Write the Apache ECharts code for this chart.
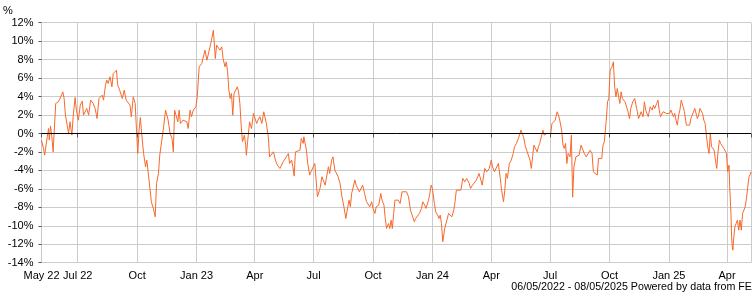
<!DOCTYPE html>
<html>
<head>
<meta charset="utf-8">
<script src="https://cdn.jsdelivr.net/npm/echarts@6/dist/echarts.min.js"></script>
<style>
html,body{margin:0;padding:0;background:#fff;}
#chart{width:754px;height:298px;}
</style>
</head>
<body>
<div id="chart"></div>
<script>
// ---- data (cumulative % performance) ----
const dates = [
'2022-05-06','2022-05-09','2022-05-11','2022-05-13','2022-05-15','2022-05-17','2022-05-18','2022-05-20','2022-05-22','2022-05-24','2022-05-26','2022-05-28',
'2022-06-01','2022-06-03','2022-06-08','2022-06-10','2022-06-12','2022-06-15','2022-06-17','2022-06-19','2022-06-22','2022-06-24','2022-06-27','2022-06-29',
'2022-07-02','2022-07-05','2022-07-08','2022-07-10','2022-07-12','2022-07-15','2022-07-18','2022-07-21','2022-07-25','2022-07-28','2022-07-31',
'2022-08-03','2022-08-08','2022-08-10','2022-08-13','2022-08-15','2022-08-17','2022-08-20','2022-08-23','2022-08-25','2022-08-28','2022-08-30',
'2022-09-01','2022-09-04','2022-09-08','2022-09-11','2022-09-14','2022-09-17','2022-09-20','2022-09-22','2022-09-25','2022-09-28','2022-09-30',
'2022-10-02','2022-10-04','2022-10-06','2022-10-08','2022-10-11','2022-10-14','2022-10-16','2022-10-18','2022-10-21','2022-10-23','2022-10-26','2022-10-29','2022-10-31',
'2022-11-03','2022-11-05','2022-11-08','2022-11-11','2022-11-14','2022-11-16','2022-11-18','2022-11-21','2022-11-24','2022-11-26','2022-11-28',
'2022-12-01','2022-12-03','2022-12-05','2022-12-07','2022-12-11','2022-12-14','2022-12-17','2022-12-19','2022-12-22','2022-12-24','2022-12-27','2022-12-31',
'2023-01-02','2023-01-05','2023-01-09','2023-01-11','2023-01-14','2023-01-17','2023-01-20','2023-01-23','2023-01-27','2023-01-30',
'2023-02-01','2023-02-04','2023-02-06','2023-02-09','2023-02-11','2023-02-14','2023-02-16','2023-02-18','2023-02-20','2023-02-22','2023-02-24','2023-02-26','2023-02-28',
'2023-03-03','2023-03-05','2023-03-07','2023-03-09','2023-03-11','2023-03-13','2023-03-16','2023-03-18','2023-03-19','2023-03-22','2023-03-24','2023-03-27','2023-03-30',
'2023-04-02','2023-04-04','2023-04-06','2023-04-09','2023-04-12','2023-04-15','2023-04-19','2023-04-22','2023-04-24','2023-04-27','2023-04-30',
'2023-05-03','2023-05-06','2023-05-10','2023-05-12','2023-05-15','2023-05-17','2023-05-20','2023-05-23','2023-05-25','2023-05-28','2023-05-30',
'2023-06-01','2023-06-03','2023-06-06','2023-06-10','2023-06-12','2023-06-15','2023-06-16','2023-06-20','2023-06-22','2023-06-25','2023-06-27','2023-06-30',
'2023-07-03','2023-07-05','2023-07-07','2023-07-09','2023-07-11','2023-07-14','2023-07-17','2023-07-19','2023-07-22','2023-07-24','2023-07-26','2023-07-29','2023-07-31',
'2023-08-03','2023-08-05','2023-08-08','2023-08-11','2023-08-14','2023-08-17','2023-08-20','2023-08-23','2023-08-25','2023-08-27','2023-08-29','2023-08-31',
'2023-09-03','2023-09-05','2023-09-07','2023-09-10','2023-09-13','2023-09-15','2023-09-18','2023-09-21','2023-09-24','2023-09-26','2023-09-29',
'2023-10-01','2023-10-04','2023-10-06','2023-10-10','2023-10-13','2023-10-15','2023-10-18','2023-10-20','2023-10-22','2023-10-25','2023-10-27','2023-10-29','2023-10-31',
'2023-11-02','2023-11-04','2023-11-07','2023-11-09','2023-11-12','2023-11-15','2023-11-18','2023-11-22','2023-11-25','2023-11-28',
'2023-12-01','2023-12-04','2023-12-06','2023-12-09','2023-12-12','2023-12-15','2023-12-17','2023-12-20','2023-12-22','2023-12-26','2023-12-28','2023-12-30',
'2024-01-01','2024-01-04','2024-01-06','2024-01-09','2024-01-11','2024-01-13','2024-01-15','2024-01-17','2024-01-20','2024-01-22','2024-01-26','2024-01-28','2024-01-31',
'2024-02-03','2024-02-05','2024-02-07','2024-02-10','2024-02-14','2024-02-17','2024-02-20','2024-02-23','2024-02-27','2024-02-29',
'2024-03-03','2024-03-06','2024-03-09','2024-03-11','2024-03-13','2024-03-16','2024-03-18','2024-03-20','2024-03-22','2024-03-25','2024-03-29',
'2024-04-01','2024-04-03','2024-04-06','2024-04-09','2024-04-12','2024-04-15','2024-04-17','2024-04-20','2024-04-22','2024-04-24','2024-04-26','2024-04-29',
'2024-05-02','2024-05-05','2024-05-07','2024-05-10','2024-05-13','2024-05-15','2024-05-17','2024-05-19','2024-05-21','2024-05-24','2024-05-27','2024-05-31',
'2024-06-02','2024-06-04','2024-06-06','2024-06-09','2024-06-11','2024-06-13','2024-06-15','2024-06-17','2024-06-20','2024-06-22','2024-06-24','2024-06-26','2024-06-29',
'2024-07-02','2024-07-04','2024-07-06','2024-07-09','2024-07-12','2024-07-14','2024-07-16','2024-07-19','2024-07-21','2024-07-23','2024-07-25','2024-07-27','2024-07-29',
'2024-08-01','2024-08-03','2024-08-05','2024-08-07','2024-08-10','2024-08-13','2024-08-15','2024-08-18','2024-08-21','2024-08-23','2024-08-26','2024-08-29',
'2024-09-01','2024-09-04','2024-09-06','2024-09-09','2024-09-12','2024-09-14','2024-09-17','2024-09-19','2024-09-21','2024-09-23','2024-09-26','2024-09-28','2024-09-30',
'2024-10-02','2024-10-05','2024-10-07','2024-10-09','2024-10-11','2024-10-13','2024-10-15','2024-10-17','2024-10-19','2024-10-21','2024-10-23','2024-10-25','2024-10-27','2024-10-29',
'2024-11-01','2024-11-03','2024-11-06','2024-11-09','2024-11-12','2024-11-15','2024-11-17','2024-11-19','2024-11-22','2024-11-24','2024-11-26','2024-11-28','2024-11-30',
'2024-12-03','2024-12-06','2024-12-08','2024-12-10','2024-12-13','2024-12-15','2024-12-17','2024-12-19','2024-12-21','2024-12-23','2024-12-25','2024-12-28','2024-12-30',
'2025-01-02','2025-01-04','2025-01-08','2025-01-10','2025-01-12','2025-01-14','2025-01-16','2025-01-18','2025-01-20','2025-01-23','2025-01-25','2025-01-28','2025-01-30',
'2025-02-02','2025-02-04','2025-02-07','2025-02-10','2025-02-12','2025-02-14','2025-02-16','2025-02-18','2025-02-20','2025-02-22','2025-02-24','2025-02-26','2025-02-28',
'2025-03-02','2025-03-04','2025-03-06','2025-03-08','2025-03-12','2025-03-14','2025-03-16','2025-03-18','2025-03-20','2025-03-22','2025-03-24','2025-03-27','2025-03-29','2025-03-31',
'2025-04-02','2025-04-04','2025-04-05','2025-04-07','2025-04-08','2025-04-09','2025-04-10','2025-04-11','2025-04-13','2025-04-15','2025-04-17','2025-04-19','2025-04-21','2025-04-23','2025-04-25','2025-04-27','2025-04-29',
'2025-05-01','2025-05-03','2025-05-05','2025-05-07','2025-05-08'
];
const values = [
-0.72,-1.62,-2.35,-1.26,-0.36,0.54,-0.72,0.79,-0.36,-1.99,-2.17,3.25,
3.43,3.68,4.51,3.79,1.99,2.09,0.00,1.26,-0.18,1.81,3.90,2.53,
1.44,3.07,3.50,1.99,1.88,2.71,1.99,3.61,3.25,2.71,1.62,
3.79,4.15,3.61,5.23,5.78,5.42,6.14,5.05,6.50,6.32,6.86,
5.23,4.69,3.79,4.69,3.61,3.61,3.07,1.81,3.97,3.25,0.36,
-2.17,0.36,1.73,0.00,-2.17,-3.61,-2.89,-4.15,-4.33,-7.40,-8.12,-9.03,-5.42,
-4.33,-2.35,-2.17,0.72,2.53,1.99,1.44,0.00,-0.54,-1.99,2.53,
2.71,1.26,2.53,1.08,1.44,1.26,1.26,0.54,2.53,1.81,2.53,2.89,
3.97,7.22,7.58,7.76,9.03,7.94,8.84,9.75,11.19,8.12,
9.57,9.50,9.03,9.39,8.12,7.22,7.76,6.68,4.69,3.79,4.33,1.99,4.33,
4.51,5.05,4.51,3.25,0.90,-0.90,-0.18,-1.26,-2.35,-0.18,1.26,0.54,2.17,
2.35,1.08,1.44,1.81,1.08,2.35,1.08,-0.36,-2.53,-2.35,-1.99,
-2.89,-3.43,-3.79,-3.97,-3.07,-3.25,-2.53,-2.17,-3.25,-2.89,-3.61,
-4.62,-1.99,-1.99,-1.81,-0.54,-1.08,-0.36,-1.81,-3.25,-4.51,-4.15,-4.33,
-3.25,-5.05,-6.86,-7.04,-5.96,-4.69,-4.69,-5.60,-5.42,-3.61,-4.33,-2.89,-2.53,
-3.97,-3.79,-4.69,-5.42,-6.86,-7.94,-9.21,-7.94,-7.22,-7.94,-6.50,-6.68,
-5.05,-5.60,-5.78,-6.32,-6.50,-5.60,-6.50,-7.40,-7.58,-7.94,-7.40,
-8.12,-8.66,-7.94,-7.76,-6.50,-7.22,-7.76,-9.21,-10.29,-9.75,-10.29,-9.39,-10.29,
-8.66,-7.22,-7.04,-7.22,-7.58,-6.32,-6.50,-6.32,-6.86,-8.30,
-8.48,-9.57,-9.21,-9.03,-8.66,-8.12,-7.40,-7.76,-8.12,-7.22,-6.50,-5.60,
-5.96,-7.58,-8.48,-8.84,-9.21,-8.84,-9.75,-11.73,-10.29,-10.47,-8.66,-8.48,-9.03,
-8.30,-7.40,-6.14,-6.14,-6.14,-4.87,-5.23,-4.87,-5.42,-5.96,
-5.60,-5.78,-5.05,-5.23,-4.33,-5.05,-5.60,-5.42,-3.79,-4.15,-3.79,
-2.89,-3.61,-4.15,-3.97,-3.25,-4.87,-6.14,-7.40,-6.14,-4.33,-4.87,-3.25,
-2.89,-2.17,-1.44,-1.08,-0.54,-0.54,0.36,0.54,-0.36,-1.44,-1.44,-2.89,
-3.79,-2.53,-1.26,-1.44,-1.99,-1.44,-1.08,-0.90,0.36,-0.18,-0.36,0.00,-0.18,
0.00,1.08,1.26,1.44,2.35,1.99,1.44,0.36,-1.26,-1.62,-1.08,-3.25,-2.17,
-2.53,-0.18,-6.90,-3.61,-2.53,-2.53,-2.35,-1.26,-1.26,-2.17,-2.53,-2.71,
-1.81,-2.17,-4.15,-4.33,-4.51,-2.71,-2.89,-2.71,-1.26,-0.90,1.44,3.43,3.79,
6.86,7.22,7.76,5.05,3.97,4.87,4.69,3.25,4.51,3.79,3.79,3.43,3.61,2.53,
1.62,2.71,3.43,3.79,2.71,1.62,1.44,2.35,1.81,3.43,2.53,2.35,1.81,
2.89,2.53,3.07,2.71,3.25,3.61,2.53,1.81,1.81,2.35,2.53,2.17,1.99,
2.17,2.53,1.81,2.17,1.44,0.90,1.99,2.53,3.61,2.89,2.35,0.90,0.90,
0.90,1.62,1.44,2.71,2.71,1.62,1.99,2.71,2.71,2.17,1.44,1.08,-0.18,
-1.44,-2.17,0.00,-1.44,-1.81,-2.89,-3.79,-1.99,-0.72,-1.08,-1.26,-1.62,-1.62,-2.17,
-4.15,-3.43,-5.78,-8.66,-11.19,-12.27,-12.64,-11.55,-10.11,-9.75,-9.39,-10.47,-9.39,-10.47,-8.66,-8.30,-7.94,
-7.04,-5.78,-4.69,-4.40,-4.15
];
const tickDates = ['2022-05-06','2022-07-01','2022-10-01','2023-01-01','2023-04-01','2023-07-01','2023-10-01','2024-01-01','2024-04-01','2024-07-01','2024-10-01','2025-01-01','2025-04-01','2025-05-08'];
const tickLabels = ['May 22','Jul 22','Oct','Jan 23','Apr','Jul','Oct','Jan 24','Apr','Jul','Oct','Jan 25','Apr',''];
const yMin = -14, yMax = 12, yStep = 2;
const footerText = '06/05/2022 - 08/05/2025 Powered by data from FE';
const unitText = '%';

// ---- build ----
const toTime = s => { const p = s.split('-').map(Number); return Date.UTC(p[0], p[1] - 1, p[2]); };
const tickTimes = tickDates.map(toTime);
const seriesData = dates.map((d, i) => [toTime(d), values[i]]);
const FONT = '"Liberation Sans", Arial, sans-serif';

const chart = echarts.init(document.getElementById('chart'), null, {renderer: 'canvas'});
chart.setOption({
  animation: false,
  backgroundColor: '#ffffff',
  grid: {left: 41.5, right: 2.5, top: 22.7, bottom: 35.3, containLabel: false},
  xAxis: {
    type: 'value',
    min: tickTimes[0],
    max: tickTimes[tickTimes.length - 1],
    axisLine: {show: true, lineStyle: {color: '#c8c8c8', width: 1}},
    axisTick: {show: true, length: 4, lineStyle: {color: '#555'}, customValues: tickTimes},
    splitLine: {show: true, lineStyle: {color: '#cccccc', width: 1}},
    axisLabel: {
      customValues: tickTimes,
      showMinLabel: true, showMaxLabel: true,
      margin: 8,
      color: '#000',
      fontFamily: FONT,
      fontSize: 11,
      formatter: function (v) {
        for (let i = 0; i < tickTimes.length; i++) {
          if (Math.abs(tickTimes[i] - v) < 43200000) return tickLabels[i];
        }
        return '';
      }
    }
  },
  yAxis: {
    type: 'value',
    min: yMin, max: yMax, interval: yStep,
    axisLine: {show: true, lineStyle: {color: '#c8c8c8', width: 1}},
    axisTick: {show: true, length: 3, lineStyle: {color: '#555'}},
    splitLine: {show: true, lineStyle: {color: '#cccccc', width: 1}},
    axisLabel: {margin: 8, color: '#000', fontFamily: FONT, fontSize: 11, formatter: '{value}%'}
  },
  graphic: [
    {type: 'text', left: 3, top: 5, style: {text: unitText, font: '11px ' + FONT, fill: '#000'}},
    {type: 'text', right: 2, top: 281.5, style: {text: footerText, font: '10.7px ' + FONT, fill: '#000'}}
  ],
  series: [
    {
      type: 'line', z: 1, data: [], silent: true,
      markLine: {
        silent: true, symbol: 'none', label: {show: false}, animation: false,
        lineStyle: {color: '#000', width: 1, type: 'solid'},
        data: [{yAxis: 0}]
      }
    },
    {
      type: 'line', z: 3,
      data: seriesData,
      showSymbol: false,
      symbol: 'none',
      lineStyle: {color: '#f7692c', width: 1},
      itemStyle: {color: '#f7692c'}
    }
  ]
});
</script>
</body>
</html>
